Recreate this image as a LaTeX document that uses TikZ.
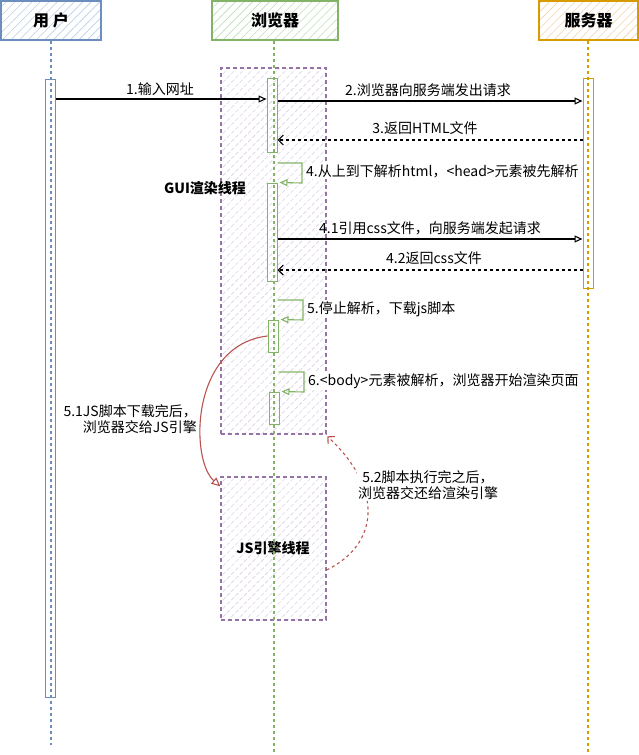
\documentclass[tikz,border=0pt]{standalone}
\usepackage{fontspec}
\setmainfont{Noto Sans CJK SC}
\usetikzlibrary{arrows.meta,patterns.meta}
\definecolor{ublue}{HTML}{6C8EBF}
\definecolor{ugreen}{HTML}{82B366}
\definecolor{uorange}{HTML}{D79B00}
\definecolor{upurple}{HTML}{9673A6}
\definecolor{ured}{HTML}{B85450}
\definecolor{hblue}{HTML}{B8CDEB}
\definecolor{hgreen}{HTML}{BFDDB8}
\definecolor{horange}{HTML}{F5D2A8}
\definecolor{hpurple}{HTML}{DCD0E4}
\begin{document}
\begin{tikzpicture}[x=1pt,y=-1pt,
  lbl/.style={font=\fontsize{14}{16}\selectfont, inner sep=1pt},
  hdr/.style={font=\fontsize{16}{18}\selectfont\bfseries, line width=1.2pt, minimum height=39pt, inner sep=0pt,
     pattern={Lines[angle=45,distance=6pt,line width=0.6pt]}},
  life/.style={dashed, line width=1.1pt, dash pattern=on 3pt off 3pt},
  act/.style={minimum width=10pt, inner sep=0pt, line width=1pt},
  thread/.style={draw=upurple, dashed, line width=1.2pt, dash pattern=on 4pt off 3pt,
     pattern={Lines[angle=45,distance=6pt,line width=0.6pt]}, pattern color=hpurple,
     minimum width=105pt, inner sep=0pt},
  msg/.style={line width=1.1pt, -{Triangle[open,length=8pt,width=7pt]}},
  ret/.style={line width=1.1pt, dashed, dash pattern=on 3pt off 3pt, -{Straight Barb[length=5pt,width=10pt]}},
  self/.style={draw=ugreen, line width=1.1pt, -{Triangle[open,length=8pt,width=7pt]}}
]
\useasboundingbox (0,0) rectangle (639,755);

% thread boxes
\node[thread, minimum height=366pt] (gui) at (273.5,251) {};
\node[thread, minimum height=143pt] (js) at (273.5,548.5) {};
\node[font=\fontsize{14}{16}\selectfont\bfseries] (guil) at (205,188) {GUI渲染线程};
\node[font=\fontsize{14}{16}\selectfont\bfseries] (jsl) at (273,548) {JS引擎线程};

% headers
\node[hdr, draw=ublue, pattern color=hblue, minimum width=100pt] (user) at (51,20.5) {用 户};
\node[hdr, draw=ugreen, pattern color=hgreen, minimum width=126pt] (browser) at (275,20.5) {浏览器};
\node[hdr, draw=uorange, pattern color=horange, minimum width=99pt] (server) at (588.5,20.5) {服务器};

% lifelines
\coordinate (userend) at (51,745);
\coordinate (browserend) at (274,752);
\coordinate (serverend) at (588,752);
\draw[life, draw=ublue] (user.south) -- (userend);
\draw[life, draw=ugreen] (browser.south -| browserend) -- (browserend);
\draw[life, draw=uorange] (server.south -| serverend) -- (serverend);

% activations
\node[act, draw=ublue, minimum height=618pt] (ua) at (50,388) {};
\node[act, draw=ugreen, minimum height=74pt] (b1) at (272,115) {};
\node[act, draw=ugreen, minimum height=98pt] (b2) at (272,232) {};
\node[act, draw=ugreen, minimum height=32pt] (b3) at (273,336) {};
\node[act, draw=ugreen, minimum height=32pt] (b4) at (274,408) {};
\node[act, draw=uorange, minimum height=210pt] (sa) at (588,183) {};

% messages
\draw[msg] (ua.east |- 0,99) -- (b1.west |- 0,99);
\node[lbl] (l1) at (160,89) {1.输入网址};
\draw[msg] (b1.east |- 0,101) -- (sa.west |- 0,101);
\node[lbl] (l2) at (428,90) {2.浏览器向服务端发出请求};
\draw[ret] (sa.west |- 0,140) -- (b1.east |- 0,140);
\node[lbl] (l3) at (425,128) {3.返回HTML文件};

\coordinate (c4) at (302,163);
\draw[self] (b1.east |- c4) -- (c4) -- (302,183) -- ([xshift=2pt]b2.north east);
\node[lbl, fill=white, anchor=west] (l4) at (305,171) {4.从上到下解析html，<head>元素被先解析};

\draw[msg] (b2.east |- 0,239) -- (sa.west |- 0,239);
\node[lbl] (l41) at (430,228) {4.1引用css文件，向服务端发起请求};
\draw[ret] (sa.west |- 0,270) -- (b2.east |- 0,270);
\node[lbl] (l42) at (434,258) {4.2返回css文件};

\coordinate (c5) at (303,300);
\draw[self] (b2.east |- c5) -- (c5) -- (303,320) -- ([xshift=2pt]b3.north east);
\node[lbl, fill=white, anchor=west] (l5) at (306,309) {5.停止解析，下载js脚本};

\coordinate (c6) at (304,372);
\draw[self] (b3.east |- c6) -- (c6) -- (304,392) -- ([xshift=2pt]b4.north east);
\node[lbl, fill=white, anchor=west] (l6) at (307,381) {6.<body>元素被解析，浏览器开始渲染页面};

% 5.1 handoff to JS
\draw[draw=ured, line width=1.1pt, -{Triangle[open,length=9pt,width=8pt]}]
  (b3.west) .. controls (190,345) and (190,460) .. ([yshift=-10pt]js.north west);
\node[lbl, align=right, anchor=east] (l51) at (198,419) {5.1JS脚本下载完后，\\浏览器交给JS引擎};

% 5.2 back to GUI
\draw[draw=ured, line width=1.1pt, dashed, dash pattern=on 3pt off 3pt, -{Straight Barb[length=5pt,width=10pt]}]
  ([yshift=-21.5pt]js.east) .. controls (378,545) and (385,490) .. ([xshift=1pt,yshift=-2pt]gui.south east);
\node[lbl, fill=white, align=center] (l52) at (428,485) {5.2脚本执行完之后，\\浏览器交还给渲染引擎};
\end{tikzpicture}
\end{document}
